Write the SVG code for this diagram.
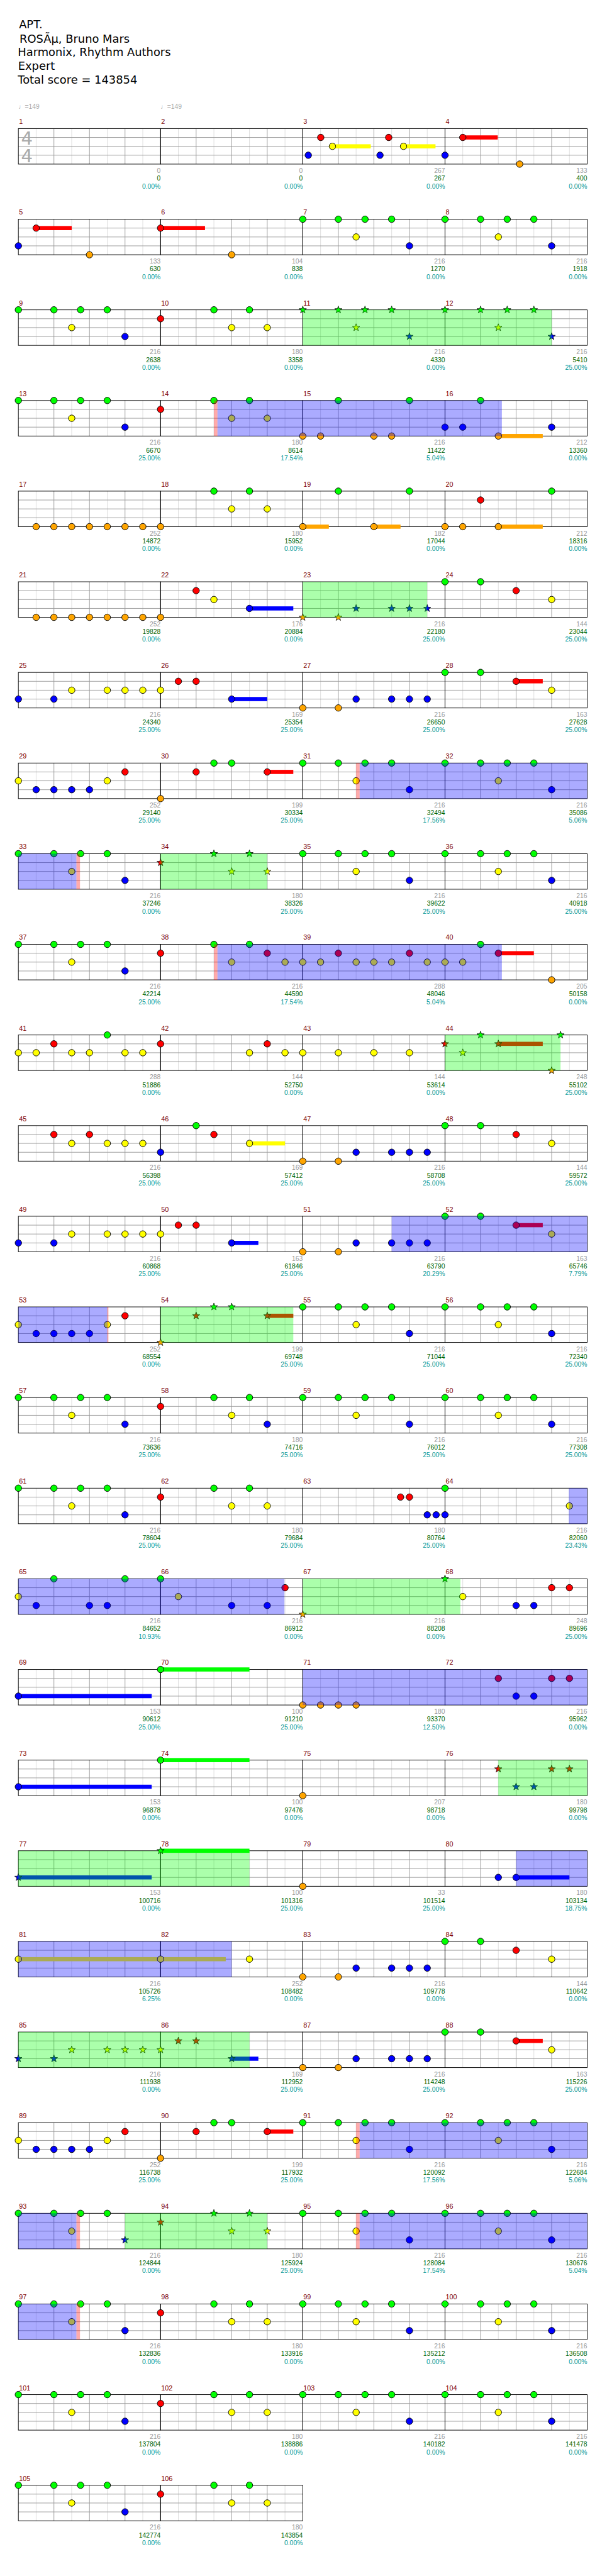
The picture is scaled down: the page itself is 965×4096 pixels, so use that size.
<svg xmlns="http://www.w3.org/2000/svg" width="965" height="4096" viewBox="0 0 965 4096">
<style>
text{font-family:"Liberation Sans","DejaVu Sans",sans-serif}
.t{font-family:"DejaVu Sans",sans-serif;font-size:19px;fill:#000}
.mn{font-size:11.5px;fill:#800000}
.a,.b,.c{font-size:11px;text-anchor:end}
.a{fill:#999}.b{fill:#006400}.c{fill:#009999}
.tp{font-size:11px;fill:#aaa}
.ts{font-family:"DejaVu Sans",sans-serif;font-size:31px;fill:#aaa}
.sR{fill:#f00}.sY{fill:#ff0}.sB{fill:#00f}.sO{fill:#ffa500}.sG{fill:#0f0}
.ovg{fill:#0f0;fill-opacity:.33}.ovb{fill:#00f;fill-opacity:.33}.ovr{fill:#f00;fill-opacity:.33}
</style>
<defs>
<g id="M">
<path d="M30 0V60M90 0V60M150 0V60M210 0V60" stroke="#ddd"/>
<path d="M60 0V60M120 0V60M180 0V60M0 15H240M0 30H240M0 45H240" stroke="#999"/>
<rect width="240" height="60" fill="none" stroke="#000"/>
</g>
<circle id="g" r="5.5" fill="#0f0" stroke="#000"/>
<circle id="r" cy="15" r="5.5" fill="#f00" stroke="#000"/>
<circle id="y" cy="30" r="5.5" fill="#ff0" stroke="#000"/>
<circle id="b" cy="45" r="5.5" fill="#00f" stroke="#000"/>
<circle id="o" cy="60" r="5.5" fill="#ffa500" stroke="#000"/>
<path id="st" d="M0,-6.5L1.53,-2.1L6.18,-2.01L2.47,0.8L3.82,5.26L0,2.6L-3.82,5.26L-2.47,0.8L-6.18,-2.01L-1.53,-2.1Z" stroke="#000" stroke-width="0.8"/>
<use id="G" href="#st" fill="#0f0"/>
<use id="R" href="#st" y="15" fill="#f00"/>
<use id="Y" href="#st" y="30" fill="#ff0"/>
<use id="B" href="#st" y="45" fill="#00f"/>
<use id="O" href="#st" y="60" fill="#ffa500"/>
<g id="S"><use href="#g"/><use href="#g" x="60"/><use href="#g" x="105"/><use href="#g" x="150"/><use href="#y" x="90"/><use href="#b" x="180"/></g>
<g id="SS"><use href="#G"/><use href="#G" x="60"/><use href="#G" x="105"/><use href="#G" x="150"/><use href="#Y" x="90"/><use href="#B" x="180"/></g>
<g id="T"><use href="#r"/><use href="#g" x="90"/><use href="#g" x="150"/><use href="#y" x="120"/><use href="#y" x="180"/></g>
<g id="C"><use href="#g"/><use href="#g" x="60"/><use href="#y" x="90"/><use href="#g" x="105"/><use href="#g" x="150"/><use href="#b" x="180"/></g>
<g id="P"><use href="#o"/><use href="#o" x="60"/><use href="#b" x="90"/><use href="#b" x="150"/><use href="#b" x="180"/><use href="#b" x="210"/></g>
<g id="Q"><rect class="sR" x="120" y="11.5" width="45" height="7"/><use href="#g"/><use href="#g" x="60"/><use href="#r" x="120"/><use href="#y" x="180"/></g>
<g id="V"><use href="#y"/><use href="#b" x="30"/><use href="#b" x="60"/><use href="#b" x="90"/><use href="#b" x="120"/><use href="#y" x="150"/><use href="#r" x="180"/></g>
</defs>
<g transform="scale(0.942)">
<g id="header">
<text class="t" x="32" y="48">APT.</text>
<text class="t" x="33" y="71.7">ROSÃµ, Bruno Mars</text>
<text class="t" x="30" y="95">Harmonix, Rhythm Authors</text>
<text class="t" x="30.5" y="118.3">Expert</text>
<text class="t" x="30" y="141">Total score = 143854</text>
<text class="tp" x="31" y="184">♩=149</text>
<text class="tp" x="271" y="184">♩=149</text>
</g>
<g id="measures">
<g id="m1" transform="translate(31,217)"><use href="#M"/><text class="mn" x="1" y="-7.5">1</text><text class="ts" x="4.5" y="27">4</text><text class="ts" x="4.5" y="57">4</text><text class="a" x="240" y="75">0</text><text class="b" x="240" y="88">0</text><text class="c" x="240" y="101">0.00%</text></g>
<g id="m2" transform="translate(271,217)"><use href="#M"/><text class="mn" x="1" y="-7.5">2</text><text class="a" x="240" y="75">0</text><text class="b" x="240" y="88">0</text><text class="c" x="240" y="101">0.00%</text></g>
<g id="m3" transform="translate(511,217)"><use href="#M"/><text class="mn" x="1" y="-7.5">3</text><rect class="sY" x="50" y="26.5" width="64.7" height="7"/><rect class="sY" x="170" y="26.5" width="54" height="7"/><use href="#b" x="9.3"/><use href="#r" x="30.3"/><use href="#y" x="50"/><use href="#b" x="130.3"/><use href="#r" x="145"/><use href="#y" x="170"/><text class="a" x="240" y="75">267</text><text class="b" x="240" y="88">267</text><text class="c" x="240" y="101">0.00%</text></g>
<g id="m4" transform="translate(751,217)"><use href="#M"/><text class="mn" x="1" y="-7.5">4</text><rect class="sR" x="30" y="11.5" width="59" height="7"/><use href="#b"/><use href="#r" x="30"/><use href="#o" x="126"/><text class="a" x="240" y="75">133</text><text class="b" x="240" y="88">400</text><text class="c" x="240" y="101">0.00%</text></g>
<g id="m5" transform="translate(31,370)"><use href="#M"/><text class="mn" x="1" y="-7.5">5</text><rect class="sR" x="30" y="11.5" width="60" height="7"/><use href="#b"/><use href="#r" x="30"/><use href="#o" x="120"/><text class="a" x="240" y="75">133</text><text class="b" x="240" y="88">630</text><text class="c" x="240" y="101">0.00%</text></g>
<g id="m6" transform="translate(271,370)"><use href="#M"/><text class="mn" x="1" y="-7.5">6</text><rect class="sR" x="0" y="11.5" width="75" height="7"/><use href="#r"/><use href="#o" x="120"/><text class="a" x="240" y="75">104</text><text class="b" x="240" y="88">838</text><text class="c" x="240" y="101">0.00%</text></g>
<g id="m7" transform="translate(511,370)"><use href="#M"/><text class="mn" x="1" y="-7.5">7</text><use href="#S"/><text class="a" x="240" y="75">216</text><text class="b" x="240" y="88">1270</text><text class="c" x="240" y="101">0.00%</text></g>
<g id="m8" transform="translate(751,370)"><use href="#M"/><text class="mn" x="1" y="-7.5">8</text><use href="#S"/><text class="a" x="240" y="75">216</text><text class="b" x="240" y="88">1918</text><text class="c" x="240" y="101">0.00%</text></g>
<g id="m9" transform="translate(31,523)"><use href="#M"/><text class="mn" x="1" y="-7.5">9</text><use href="#S"/><text class="a" x="240" y="75">216</text><text class="b" x="240" y="88">2638</text><text class="c" x="240" y="101">0.00%</text></g>
<g id="m10" transform="translate(271,523)"><use href="#M"/><text class="mn" x="1" y="-7.5">10</text><use href="#T"/><text class="a" x="240" y="75">180</text><text class="b" x="240" y="88">3358</text><text class="c" x="240" y="101">0.00%</text></g>
<g id="m11" transform="translate(511,523)"><use href="#M"/><text class="mn" x="1" y="-7.5">11</text><use href="#SS"/><text class="a" x="240" y="75">216</text><text class="b" x="240" y="88">4330</text><text class="c" x="240" y="101">0.00%</text></g>
<g id="m12" transform="translate(751,523)"><use href="#M"/><text class="mn" x="1" y="-7.5">12</text><use href="#SS"/><text class="a" x="240" y="75">216</text><text class="b" x="240" y="88">5410</text><text class="c" x="240" y="101">25.00%</text></g>
<g id="m13" transform="translate(31,676)"><use href="#M"/><text class="mn" x="1" y="-7.5">13</text><use href="#S"/><text class="a" x="240" y="75">216</text><text class="b" x="240" y="88">6670</text><text class="c" x="240" y="101">25.00%</text></g>
<g id="m14" transform="translate(271,676)"><use href="#M"/><text class="mn" x="1" y="-7.5">14</text><use href="#T"/><text class="a" x="240" y="75">180</text><text class="b" x="240" y="88">8614</text><text class="c" x="240" y="101">17.54%</text></g>
<g id="m15" transform="translate(511,676)"><use href="#M"/><text class="mn" x="1" y="-7.5">15</text><use href="#g" x="60"/><use href="#g" x="180"/><use href="#o"/><use href="#o" x="30"/><use href="#o" x="120"/><use href="#o" x="150"/><text class="a" x="240" y="75">216</text><text class="b" x="240" y="88">11422</text><text class="c" x="240" y="101">5.04%</text></g>
<g id="m16" transform="translate(751,676)"><use href="#M"/><text class="mn" x="1" y="-7.5">16</text><rect class="sO" x="90" y="56.5" width="75" height="7"/><use href="#b"/><use href="#b" x="30"/><use href="#g" x="60"/><use href="#o" x="90"/><use href="#b" x="180"/><text class="a" x="240" y="75">212</text><text class="b" x="240" y="88">13360</text><text class="c" x="240" y="101">0.00%</text></g>
<g id="m17" transform="translate(31,829)"><use href="#M"/><text class="mn" x="1" y="-7.5">17</text><use href="#o" x="30"/><use href="#o" x="60"/><use href="#o" x="90"/><use href="#o" x="120"/><use href="#o" x="150"/><use href="#o" x="180"/><use href="#o" x="210"/><text class="a" x="240" y="75">252</text><text class="b" x="240" y="88">14872</text><text class="c" x="240" y="101">0.00%</text></g>
<g id="m18" transform="translate(271,829)"><use href="#M"/><text class="mn" x="1" y="-7.5">18</text><use href="#o"/><use href="#g" x="90"/><use href="#g" x="150"/><use href="#y" x="120"/><use href="#y" x="180"/><text class="a" x="240" y="75">180</text><text class="b" x="240" y="88">15952</text><text class="c" x="240" y="101">0.00%</text></g>
<g id="m19" transform="translate(511,829)"><use href="#M"/><text class="mn" x="1" y="-7.5">19</text><rect class="sO" x="0" y="56.5" width="44" height="7"/><rect class="sO" x="120" y="56.5" width="45" height="7"/><use href="#o"/><use href="#g" x="60"/><use href="#o" x="120"/><use href="#g" x="180"/><text class="a" x="240" y="75">182</text><text class="b" x="240" y="88">17044</text><text class="c" x="240" y="101">0.00%</text></g>
<g id="m20" transform="translate(751,829)"><use href="#M"/><text class="mn" x="1" y="-7.5">20</text><rect class="sO" x="90" y="56.5" width="75" height="7"/><use href="#o"/><use href="#o" x="30"/><use href="#r" x="60"/><use href="#o" x="90"/><use href="#g" x="180"/><text class="a" x="240" y="75">212</text><text class="b" x="240" y="88">18316</text><text class="c" x="240" y="101">0.00%</text></g>
<g id="m21" transform="translate(31,982)"><use href="#M"/><text class="mn" x="1" y="-7.5">21</text><use href="#o" x="30"/><use href="#o" x="60"/><use href="#o" x="90"/><use href="#o" x="120"/><use href="#o" x="150"/><use href="#o" x="180"/><use href="#o" x="210"/><text class="a" x="240" y="75">252</text><text class="b" x="240" y="88">19828</text><text class="c" x="240" y="101">0.00%</text></g>
<g id="m22" transform="translate(271,982)"><use href="#M"/><text class="mn" x="1" y="-7.5">22</text><rect class="sB" x="150" y="41.5" width="74" height="7"/><use href="#o"/><use href="#r" x="60"/><use href="#y" x="90"/><use href="#b" x="150"/><text class="a" x="240" y="75">176</text><text class="b" x="240" y="88">20884</text><text class="c" x="240" y="101">0.00%</text></g>
<g id="m23" transform="translate(511,982)"><use href="#M"/><text class="mn" x="1" y="-7.5">23</text><use href="#O"/><use href="#O" x="60"/><use href="#B" x="90"/><use href="#B" x="150"/><use href="#B" x="180"/><use href="#B" x="210"/><text class="a" x="240" y="75">216</text><text class="b" x="240" y="88">22180</text><text class="c" x="240" y="101">25.00%</text></g>
<g id="m24" transform="translate(751,982)"><use href="#M"/><text class="mn" x="1" y="-7.5">24</text><use href="#g"/><use href="#g" x="60"/><use href="#r" x="120"/><use href="#y" x="180"/><text class="a" x="240" y="75">144</text><text class="b" x="240" y="88">23044</text><text class="c" x="240" y="101">25.00%</text></g>
<g id="m25" transform="translate(31,1135)"><use href="#M"/><text class="mn" x="1" y="-7.5">25</text><use href="#b"/><use href="#b" x="60"/><use href="#y" x="90"/><use href="#y" x="150"/><use href="#y" x="180"/><use href="#y" x="210"/><text class="a" x="240" y="75">216</text><text class="b" x="240" y="88">24340</text><text class="c" x="240" y="101">25.00%</text></g>
<g id="m26" transform="translate(271,1135)"><use href="#M"/><text class="mn" x="1" y="-7.5">26</text><rect class="sB" x="120" y="41.5" width="60" height="7"/><use href="#y"/><use href="#r" x="30"/><use href="#r" x="60"/><use href="#b" x="120"/><text class="a" x="240" y="75">169</text><text class="b" x="240" y="88">25354</text><text class="c" x="240" y="101">25.00%</text></g>
<g id="m27" transform="translate(511,1135)"><use href="#M"/><text class="mn" x="1" y="-7.5">27</text><use href="#P"/><text class="a" x="240" y="75">216</text><text class="b" x="240" y="88">26650</text><text class="c" x="240" y="101">25.00%</text></g>
<g id="m28" transform="translate(751,1135)"><use href="#M"/><text class="mn" x="1" y="-7.5">28</text><use href="#Q"/><text class="a" x="240" y="75">163</text><text class="b" x="240" y="88">27628</text><text class="c" x="240" y="101">25.00%</text></g>
<g id="m29" transform="translate(31,1288)"><use href="#M"/><text class="mn" x="1" y="-7.5">29</text><use href="#V"/><text class="a" x="240" y="75">252</text><text class="b" x="240" y="88">29140</text><text class="c" x="240" y="101">25.00%</text></g>
<g id="m30" transform="translate(271,1288)"><use href="#M"/><text class="mn" x="1" y="-7.5">30</text><rect class="sR" x="180" y="11.5" width="44" height="7"/><use href="#o"/><use href="#r" x="60"/><use href="#g" x="90"/><use href="#g" x="120"/><use href="#r" x="180"/><text class="a" x="240" y="75">199</text><text class="b" x="240" y="88">30334</text><text class="c" x="240" y="101">25.00%</text></g>
<g id="m31" transform="translate(511,1288)"><use href="#M"/><text class="mn" x="1" y="-7.5">31</text><use href="#C"/><text class="a" x="240" y="75">216</text><text class="b" x="240" y="88">32494</text><text class="c" x="240" y="101">17.56%</text></g>
<g id="m32" transform="translate(751,1288)"><use href="#M"/><text class="mn" x="1" y="-7.5">32</text><use href="#S"/><text class="a" x="240" y="75">216</text><text class="b" x="240" y="88">35086</text><text class="c" x="240" y="101">5.06%</text></g>
<g id="m33" transform="translate(31,1441)"><use href="#M"/><text class="mn" x="1" y="-7.5">33</text><use href="#S"/><text class="a" x="240" y="75">216</text><text class="b" x="240" y="88">37246</text><text class="c" x="240" y="101">0.00%</text></g>
<g id="m34" transform="translate(271,1441)"><use href="#M"/><text class="mn" x="1" y="-7.5">34</text><use href="#R"/><use href="#G" x="90"/><use href="#G" x="150"/><use href="#Y" x="120"/><use href="#Y" x="180"/><text class="a" x="240" y="75">180</text><text class="b" x="240" y="88">38326</text><text class="c" x="240" y="101">25.00%</text></g>
<g id="m35" transform="translate(511,1441)"><use href="#M"/><text class="mn" x="1" y="-7.5">35</text><use href="#S"/><text class="a" x="240" y="75">216</text><text class="b" x="240" y="88">39622</text><text class="c" x="240" y="101">25.00%</text></g>
<g id="m36" transform="translate(751,1441)"><use href="#M"/><text class="mn" x="1" y="-7.5">36</text><use href="#S"/><text class="a" x="240" y="75">216</text><text class="b" x="240" y="88">40918</text><text class="c" x="240" y="101">25.00%</text></g>
<g id="m37" transform="translate(31,1594)"><use href="#M"/><text class="mn" x="1" y="-7.5">37</text><use href="#S"/><text class="a" x="240" y="75">216</text><text class="b" x="240" y="88">42214</text><text class="c" x="240" y="101">25.00%</text></g>
<g id="m38" transform="translate(271,1594)"><use href="#M"/><text class="mn" x="1" y="-7.5">38</text><use href="#r"/><use href="#g" x="90"/><use href="#g" x="150"/><use href="#y" x="120"/><use href="#r" x="180"/><use href="#y" x="210"/><text class="a" x="240" y="75">216</text><text class="b" x="240" y="88">44590</text><text class="c" x="240" y="101">17.54%</text></g>
<g id="m39" transform="translate(511,1594)"><use href="#M"/><text class="mn" x="1" y="-7.5">39</text><use href="#y"/><use href="#y" x="30"/><use href="#r" x="60"/><use href="#y" x="90"/><use href="#y" x="120"/><use href="#y" x="150"/><use href="#r" x="180"/><use href="#y" x="210"/><text class="a" x="240" y="75">288</text><text class="b" x="240" y="88">48046</text><text class="c" x="240" y="101">5.04%</text></g>
<g id="m40" transform="translate(751,1594)"><use href="#M"/><text class="mn" x="1" y="-7.5">40</text><rect class="sR" x="90" y="11.5" width="60" height="7"/><use href="#y"/><use href="#y" x="30"/><use href="#g" x="60"/><use href="#r" x="90"/><use href="#o" x="180"/><text class="a" x="240" y="75">205</text><text class="b" x="240" y="88">50158</text><text class="c" x="240" y="101">0.00%</text></g>
<g id="m41" transform="translate(31,1747)"><use href="#M"/><text class="mn" x="1" y="-7.5">41</text><use href="#y"/><use href="#y" x="30"/><use href="#r" x="60"/><use href="#y" x="90"/><use href="#y" x="120"/><use href="#g" x="150"/><use href="#y" x="180"/><use href="#y" x="210"/><text class="a" x="240" y="75">288</text><text class="b" x="240" y="88">51886</text><text class="c" x="240" y="101">0.00%</text></g>
<g id="m42" transform="translate(271,1747)"><use href="#M"/><text class="mn" x="1" y="-7.5">42</text><use href="#r"/><use href="#y" x="150"/><use href="#r" x="180"/><use href="#y" x="210"/><text class="a" x="240" y="75">144</text><text class="b" x="240" y="88">52750</text><text class="c" x="240" y="101">0.00%</text></g>
<g id="m43" transform="translate(511,1747)"><use href="#M"/><text class="mn" x="1" y="-7.5">43</text><use href="#y"/><use href="#y" x="60"/><use href="#y" x="120"/><use href="#y" x="180"/><text class="a" x="240" y="75">144</text><text class="b" x="240" y="88">53614</text><text class="c" x="240" y="101">0.00%</text></g>
<g id="m44" transform="translate(751,1747)"><use href="#M"/><text class="mn" x="1" y="-7.5">44</text><rect class="sR" x="90" y="11.5" width="75" height="7"/><use href="#R"/><use href="#Y" x="30"/><use href="#G" x="60"/><use href="#R" x="90"/><use href="#O" x="180"/><use href="#G" x="195"/><text class="a" x="240" y="75">248</text><text class="b" x="240" y="88">55102</text><text class="c" x="240" y="101">25.00%</text></g>
<g id="m45" transform="translate(31,1900)"><use href="#M"/><text class="mn" x="1" y="-7.5">45</text><use href="#r" x="60"/><use href="#r" x="120"/><use href="#y" x="90"/><use href="#y" x="150"/><use href="#y" x="180"/><use href="#y" x="210"/><text class="a" x="240" y="75">216</text><text class="b" x="240" y="88">56398</text><text class="c" x="240" y="101">25.00%</text></g>
<g id="m46" transform="translate(271,1900)"><use href="#M"/><text class="mn" x="1" y="-7.5">46</text><rect class="sY" x="150" y="26.5" width="60" height="7"/><use href="#b"/><use href="#g" x="60"/><use href="#r" x="90"/><use href="#y" x="150"/><text class="a" x="240" y="75">169</text><text class="b" x="240" y="88">57412</text><text class="c" x="240" y="101">25.00%</text></g>
<g id="m47" transform="translate(511,1900)"><use href="#M"/><text class="mn" x="1" y="-7.5">47</text><use href="#P"/><text class="a" x="240" y="75">216</text><text class="b" x="240" y="88">58708</text><text class="c" x="240" y="101">25.00%</text></g>
<g id="m48" transform="translate(751,1900)"><use href="#M"/><text class="mn" x="1" y="-7.5">48</text><use href="#g"/><use href="#g" x="60"/><use href="#r" x="120"/><use href="#y" x="180"/><text class="a" x="240" y="75">144</text><text class="b" x="240" y="88">59572</text><text class="c" x="240" y="101">25.00%</text></g>
<g id="m49" transform="translate(31,2053)"><use href="#M"/><text class="mn" x="1" y="-7.5">49</text><use href="#b"/><use href="#b" x="60"/><use href="#y" x="90"/><use href="#y" x="150"/><use href="#y" x="180"/><use href="#y" x="210"/><text class="a" x="240" y="75">216</text><text class="b" x="240" y="88">60868</text><text class="c" x="240" y="101">25.00%</text></g>
<g id="m50" transform="translate(271,2053)"><use href="#M"/><text class="mn" x="1" y="-7.5">50</text><rect class="sB" x="120" y="41.5" width="45" height="7"/><use href="#y"/><use href="#r" x="30"/><use href="#r" x="60"/><use href="#b" x="120"/><text class="a" x="240" y="75">163</text><text class="b" x="240" y="88">61846</text><text class="c" x="240" y="101">25.00%</text></g>
<g id="m51" transform="translate(511,2053)"><use href="#M"/><text class="mn" x="1" y="-7.5">51</text><use href="#P"/><text class="a" x="240" y="75">216</text><text class="b" x="240" y="88">63790</text><text class="c" x="240" y="101">20.29%</text></g>
<g id="m52" transform="translate(751,2053)"><use href="#M"/><text class="mn" x="1" y="-7.5">52</text><use href="#Q"/><text class="a" x="240" y="75">163</text><text class="b" x="240" y="88">65746</text><text class="c" x="240" y="101">7.79%</text></g>
<g id="m53" transform="translate(31,2206)"><use href="#M"/><text class="mn" x="1" y="-7.5">53</text><use href="#V"/><text class="a" x="240" y="75">252</text><text class="b" x="240" y="88">68554</text><text class="c" x="240" y="101">0.00%</text></g>
<g id="m54" transform="translate(271,2206)"><use href="#M"/><text class="mn" x="1" y="-7.5">54</text><rect class="sR" x="180" y="11.5" width="44" height="7"/><use href="#O"/><use href="#R" x="60"/><use href="#G" x="90"/><use href="#G" x="120"/><use href="#R" x="180"/><text class="a" x="240" y="75">199</text><text class="b" x="240" y="88">69748</text><text class="c" x="240" y="101">25.00%</text></g>
<g id="m55" transform="translate(511,2206)"><use href="#M"/><text class="mn" x="1" y="-7.5">55</text><use href="#S"/><text class="a" x="240" y="75">216</text><text class="b" x="240" y="88">71044</text><text class="c" x="240" y="101">25.00%</text></g>
<g id="m56" transform="translate(751,2206)"><use href="#M"/><text class="mn" x="1" y="-7.5">56</text><use href="#S"/><text class="a" x="240" y="75">216</text><text class="b" x="240" y="88">72340</text><text class="c" x="240" y="101">25.00%</text></g>
<g id="m57" transform="translate(31,2359)"><use href="#M"/><text class="mn" x="1" y="-7.5">57</text><use href="#S"/><text class="a" x="240" y="75">216</text><text class="b" x="240" y="88">73636</text><text class="c" x="240" y="101">25.00%</text></g>
<g id="m58" transform="translate(271,2359)"><use href="#M"/><text class="mn" x="1" y="-7.5">58</text><use href="#r"/><use href="#g" x="90"/><use href="#g" x="150"/><use href="#y" x="120"/><use href="#b" x="180"/><text class="a" x="240" y="75">180</text><text class="b" x="240" y="88">74716</text><text class="c" x="240" y="101">25.00%</text></g>
<g id="m59" transform="translate(511,2359)"><use href="#M"/><text class="mn" x="1" y="-7.5">59</text><use href="#S"/><text class="a" x="240" y="75">216</text><text class="b" x="240" y="88">76012</text><text class="c" x="240" y="101">25.00%</text></g>
<g id="m60" transform="translate(751,2359)"><use href="#M"/><text class="mn" x="1" y="-7.5">60</text><use href="#S"/><text class="a" x="240" y="75">216</text><text class="b" x="240" y="88">77308</text><text class="c" x="240" y="101">25.00%</text></g>
<g id="m61" transform="translate(31,2512)"><use href="#M"/><text class="mn" x="1" y="-7.5">61</text><use href="#S"/><text class="a" x="240" y="75">216</text><text class="b" x="240" y="88">78604</text><text class="c" x="240" y="101">25.00%</text></g>
<g id="m62" transform="translate(271,2512)"><use href="#M"/><text class="mn" x="1" y="-7.5">62</text><use href="#T"/><text class="a" x="240" y="75">180</text><text class="b" x="240" y="88">79684</text><text class="c" x="240" y="101">25.00%</text></g>
<g id="m63" transform="translate(511,2512)"><use href="#M"/><text class="mn" x="1" y="-7.5">63</text><use href="#r" x="165"/><use href="#r" x="180"/><use href="#b" x="210"/><use href="#b" x="225"/><text class="a" x="240" y="75">180</text><text class="b" x="240" y="88">80764</text><text class="c" x="240" y="101">25.00%</text></g>
<g id="m64" transform="translate(751,2512)"><use href="#M"/><text class="mn" x="1" y="-7.5">64</text><use href="#g"/><use href="#b"/><use href="#y" x="210"/><text class="a" x="240" y="75">216</text><text class="b" x="240" y="88">82060</text><text class="c" x="240" y="101">23.43%</text></g>
<g id="m65" transform="translate(31,2665)"><use href="#M"/><text class="mn" x="1" y="-7.5">65</text><use href="#y"/><use href="#b" x="30"/><use href="#g" x="60"/><use href="#b" x="120"/><use href="#b" x="150"/><use href="#g" x="180"/><text class="a" x="240" y="75">216</text><text class="b" x="240" y="88">84652</text><text class="c" x="240" y="101">10.93%</text></g>
<g id="m66" transform="translate(271,2665)"><use href="#M"/><text class="mn" x="1" y="-7.5">66</text><use href="#g"/><use href="#y" x="30"/><use href="#b" x="120"/><use href="#b" x="180"/><use href="#r" x="210"/><text class="a" x="240" y="75">216</text><text class="b" x="240" y="88">86912</text><text class="c" x="240" y="101">0.00%</text></g>
<g id="m67" transform="translate(511,2665)"><use href="#M"/><text class="mn" x="1" y="-7.5">67</text><use href="#O"/><text class="a" x="240" y="75">216</text><text class="b" x="240" y="88">88208</text><text class="c" x="240" y="101">0.00%</text></g>
<g id="m68" transform="translate(751,2665)"><use href="#M"/><text class="mn" x="1" y="-7.5">68</text><use href="#G"/><use href="#y" x="30"/><use href="#b" x="120"/><use href="#b" x="150"/><use href="#r" x="180"/><use href="#r" x="210"/><text class="a" x="240" y="75">248</text><text class="b" x="240" y="88">89696</text><text class="c" x="240" y="101">25.00%</text></g>
<g id="m69" transform="translate(31,2818)"><use href="#M"/><text class="mn" x="1" y="-7.5">69</text><rect class="sB" x="0" y="41.5" width="225" height="7"/><use href="#b"/><text class="a" x="240" y="75">153</text><text class="b" x="240" y="88">90612</text><text class="c" x="240" y="101">25.00%</text></g>
<g id="m70" transform="translate(271,2818)"><use href="#M"/><text class="mn" x="1" y="-7.5">70</text><rect class="sG" x="0" y="-3.5" width="150" height="7"/><use href="#g"/><text class="a" x="240" y="75">100</text><text class="b" x="240" y="88">91210</text><text class="c" x="240" y="101">25.00%</text></g>
<g id="m71" transform="translate(511,2818)"><use href="#M"/><text class="mn" x="1" y="-7.5">71</text><use href="#o"/><use href="#o" x="30"/><use href="#o" x="60"/><use href="#o" x="90"/><text class="a" x="240" y="75">180</text><text class="b" x="240" y="88">93370</text><text class="c" x="240" y="101">12.50%</text></g>
<g id="m72" transform="translate(751,2818)"><use href="#M"/><text class="mn" x="1" y="-7.5">72</text><use href="#r" x="90"/><use href="#b" x="120"/><use href="#b" x="150"/><use href="#r" x="180"/><use href="#r" x="210"/><text class="a" x="240" y="75">216</text><text class="b" x="240" y="88">95962</text><text class="c" x="240" y="101">0.00%</text></g>
<g id="m73" transform="translate(31,2971)"><use href="#M"/><text class="mn" x="1" y="-7.5">73</text><rect class="sB" x="0" y="41.5" width="225" height="7"/><use href="#b"/><text class="a" x="240" y="75">153</text><text class="b" x="240" y="88">96878</text><text class="c" x="240" y="101">0.00%</text></g>
<g id="m74" transform="translate(271,2971)"><use href="#M"/><text class="mn" x="1" y="-7.5">74</text><rect class="sG" x="0" y="-3.5" width="150" height="7"/><use href="#g"/><text class="a" x="240" y="75">100</text><text class="b" x="240" y="88">97476</text><text class="c" x="240" y="101">0.00%</text></g>
<g id="m75" transform="translate(511,2971)"><use href="#M"/><text class="mn" x="1" y="-7.5">75</text><use href="#o"/><text class="a" x="240" y="75">207</text><text class="b" x="240" y="88">98718</text><text class="c" x="240" y="101">0.00%</text></g>
<g id="m76" transform="translate(751,2971)"><use href="#M"/><text class="mn" x="1" y="-7.5">76</text><use href="#R" x="90"/><use href="#B" x="120"/><use href="#B" x="150"/><use href="#R" x="180"/><use href="#R" x="210"/><text class="a" x="240" y="75">180</text><text class="b" x="240" y="88">99798</text><text class="c" x="240" y="101">0.00%</text></g>
<g id="m77" transform="translate(31,3124)"><use href="#M"/><text class="mn" x="1" y="-7.5">77</text><rect class="sB" x="0" y="41.5" width="225" height="7"/><use href="#B"/><text class="a" x="240" y="75">153</text><text class="b" x="240" y="88">100716</text><text class="c" x="240" y="101">0.00%</text></g>
<g id="m78" transform="translate(271,3124)"><use href="#M"/><text class="mn" x="1" y="-7.5">78</text><rect class="sG" x="0" y="-3.5" width="150" height="7"/><use href="#G"/><text class="a" x="240" y="75">100</text><text class="b" x="240" y="88">101316</text><text class="c" x="240" y="101">25.00%</text></g>
<g id="m79" transform="translate(511,3124)"><use href="#M"/><text class="mn" x="1" y="-7.5">79</text><use href="#o"/><text class="a" x="240" y="75">33</text><text class="b" x="240" y="88">101514</text><text class="c" x="240" y="101">25.00%</text></g>
<g id="m80" transform="translate(751,3124)"><use href="#M"/><text class="mn" x="1" y="-7.5">80</text><rect class="sB" x="120" y="41.5" width="90" height="7"/><use href="#b" x="90"/><use href="#b" x="120"/><text class="a" x="240" y="75">180</text><text class="b" x="240" y="88">103134</text><text class="c" x="240" y="101">18.75%</text></g>
<g id="m81" transform="translate(31,3277)"><use href="#M"/><text class="mn" x="1" y="-7.5">81</text><rect class="sY" x="0" y="26.5" width="235" height="7"/><use href="#y"/><text class="a" x="240" y="75">216</text><text class="b" x="240" y="88">105726</text><text class="c" x="240" y="101">6.25%</text></g>
<g id="m82" transform="translate(271,3277)"><use href="#M"/><text class="mn" x="1" y="-7.5">82</text><rect class="sY" x="0" y="26.5" width="110" height="7"/><use href="#y"/><use href="#y" x="150"/><text class="a" x="240" y="75">252</text><text class="b" x="240" y="88">108482</text><text class="c" x="240" y="101">0.00%</text></g>
<g id="m83" transform="translate(511,3277)"><use href="#M"/><text class="mn" x="1" y="-7.5">83</text><use href="#P"/><text class="a" x="240" y="75">216</text><text class="b" x="240" y="88">109778</text><text class="c" x="240" y="101">0.00%</text></g>
<g id="m84" transform="translate(751,3277)"><use href="#M"/><text class="mn" x="1" y="-7.5">84</text><use href="#g"/><use href="#g" x="60"/><use href="#r" x="120"/><use href="#y" x="180"/><text class="a" x="240" y="75">144</text><text class="b" x="240" y="88">110642</text><text class="c" x="240" y="101">0.00%</text></g>
<g id="m85" transform="translate(31,3430)"><use href="#M"/><text class="mn" x="1" y="-7.5">85</text><use href="#B"/><use href="#B" x="60"/><use href="#Y" x="90"/><use href="#Y" x="150"/><use href="#Y" x="180"/><use href="#Y" x="210"/><text class="a" x="240" y="75">216</text><text class="b" x="240" y="88">111938</text><text class="c" x="240" y="101">0.00%</text></g>
<g id="m86" transform="translate(271,3430)"><use href="#M"/><text class="mn" x="1" y="-7.5">86</text><rect class="sB" x="120" y="41.5" width="45" height="7"/><use href="#Y"/><use href="#R" x="30"/><use href="#R" x="60"/><use href="#B" x="120"/><text class="a" x="240" y="75">169</text><text class="b" x="240" y="88">112952</text><text class="c" x="240" y="101">25.00%</text></g>
<g id="m87" transform="translate(511,3430)"><use href="#M"/><text class="mn" x="1" y="-7.5">87</text><use href="#P"/><text class="a" x="240" y="75">216</text><text class="b" x="240" y="88">114248</text><text class="c" x="240" y="101">25.00%</text></g>
<g id="m88" transform="translate(751,3430)"><use href="#M"/><text class="mn" x="1" y="-7.5">88</text><use href="#Q"/><text class="a" x="240" y="75">163</text><text class="b" x="240" y="88">115226</text><text class="c" x="240" y="101">25.00%</text></g>
<g id="m89" transform="translate(31,3583)"><use href="#M"/><text class="mn" x="1" y="-7.5">89</text><use href="#V"/><text class="a" x="240" y="75">252</text><text class="b" x="240" y="88">116738</text><text class="c" x="240" y="101">25.00%</text></g>
<g id="m90" transform="translate(271,3583)"><use href="#M"/><text class="mn" x="1" y="-7.5">90</text><rect class="sR" x="180" y="11.5" width="44" height="7"/><use href="#o"/><use href="#r" x="60"/><use href="#g" x="90"/><use href="#g" x="120"/><use href="#r" x="180"/><text class="a" x="240" y="75">199</text><text class="b" x="240" y="88">117932</text><text class="c" x="240" y="101">25.00%</text></g>
<g id="m91" transform="translate(511,3583)"><use href="#M"/><text class="mn" x="1" y="-7.5">91</text><use href="#C"/><text class="a" x="240" y="75">216</text><text class="b" x="240" y="88">120092</text><text class="c" x="240" y="101">17.56%</text></g>
<g id="m92" transform="translate(751,3583)"><use href="#M"/><text class="mn" x="1" y="-7.5">92</text><use href="#S"/><text class="a" x="240" y="75">216</text><text class="b" x="240" y="88">122684</text><text class="c" x="240" y="101">5.06%</text></g>
<g id="m93" transform="translate(31,3736)"><use href="#M"/><text class="mn" x="1" y="-7.5">93</text><use href="#g"/><use href="#g" x="60"/><use href="#y" x="90"/><use href="#g" x="105"/><use href="#g" x="150"/><use href="#B" x="180"/><text class="a" x="240" y="75">216</text><text class="b" x="240" y="88">124844</text><text class="c" x="240" y="101">0.00%</text></g>
<g id="m94" transform="translate(271,3736)"><use href="#M"/><text class="mn" x="1" y="-7.5">94</text><use href="#R"/><use href="#G" x="90"/><use href="#G" x="150"/><use href="#Y" x="120"/><use href="#Y" x="180"/><text class="a" x="240" y="75">180</text><text class="b" x="240" y="88">125924</text><text class="c" x="240" y="101">25.00%</text></g>
<g id="m95" transform="translate(511,3736)"><use href="#M"/><text class="mn" x="1" y="-7.5">95</text><use href="#C"/><text class="a" x="240" y="75">216</text><text class="b" x="240" y="88">128084</text><text class="c" x="240" y="101">17.54%</text></g>
<g id="m96" transform="translate(751,3736)"><use href="#M"/><text class="mn" x="1" y="-7.5">96</text><use href="#S"/><text class="a" x="240" y="75">216</text><text class="b" x="240" y="88">130676</text><text class="c" x="240" y="101">5.04%</text></g>
<g id="m97" transform="translate(31,3889)"><use href="#M"/><text class="mn" x="1" y="-7.5">97</text><use href="#S"/><text class="a" x="240" y="75">216</text><text class="b" x="240" y="88">132836</text><text class="c" x="240" y="101">0.00%</text></g>
<g id="m98" transform="translate(271,3889)"><use href="#M"/><text class="mn" x="1" y="-7.5">98</text><use href="#T"/><text class="a" x="240" y="75">180</text><text class="b" x="240" y="88">133916</text><text class="c" x="240" y="101">0.00%</text></g>
<g id="m99" transform="translate(511,3889)"><use href="#M"/><text class="mn" x="1" y="-7.5">99</text><use href="#S"/><text class="a" x="240" y="75">216</text><text class="b" x="240" y="88">135212</text><text class="c" x="240" y="101">0.00%</text></g>
<g id="m100" transform="translate(751,3889)"><use href="#M"/><text class="mn" x="1" y="-7.5">100</text><use href="#S"/><text class="a" x="240" y="75">216</text><text class="b" x="240" y="88">136508</text><text class="c" x="240" y="101">0.00%</text></g>
<g id="m101" transform="translate(31,4042)"><use href="#M"/><text class="mn" x="1" y="-7.5">101</text><use href="#S"/><text class="a" x="240" y="75">216</text><text class="b" x="240" y="88">137804</text><text class="c" x="240" y="101">0.00%</text></g>
<g id="m102" transform="translate(271,4042)"><use href="#M"/><text class="mn" x="1" y="-7.5">102</text><use href="#T"/><text class="a" x="240" y="75">180</text><text class="b" x="240" y="88">138886</text><text class="c" x="240" y="101">0.00%</text></g>
<g id="m103" transform="translate(511,4042)"><use href="#M"/><text class="mn" x="1" y="-7.5">103</text><use href="#S"/><text class="a" x="240" y="75">216</text><text class="b" x="240" y="88">140182</text><text class="c" x="240" y="101">0.00%</text></g>
<g id="m104" transform="translate(751,4042)"><use href="#M"/><text class="mn" x="1" y="-7.5">104</text><use href="#S"/><text class="a" x="240" y="75">216</text><text class="b" x="240" y="88">141478</text><text class="c" x="240" y="101">0.00%</text></g>
<g id="m105" transform="translate(31,4195)"><use href="#M"/><text class="mn" x="1" y="-7.5">105</text><use href="#S"/><text class="a" x="240" y="75">216</text><text class="b" x="240" y="88">142774</text><text class="c" x="240" y="101">0.00%</text></g>
<g id="m106" transform="translate(271,4195)"><use href="#M"/><text class="mn" x="1" y="-7.5">106</text><use href="#T"/><text class="a" x="240" y="75">180</text><text class="b" x="240" y="88">143854</text><text class="c" x="240" y="101">0.00%</text></g>
</g>
<g id="overlays">
<rect class="ovg" x="511" y="523" width="420" height="60"/>
<rect class="ovr" x="361" y="676" width="6" height="60"/>
<rect class="ovb" x="367" y="676" width="480" height="60"/>
<rect class="ovg" x="511" y="982" width="210" height="60"/>
<rect class="ovr" x="601" y="1288" width="6" height="60"/>
<rect class="ovb" x="607" y="1288" width="384" height="60"/>
<rect class="ovb" x="31" y="1441" width="98" height="60"/>
<rect class="ovr" x="129" y="1441" width="6" height="60"/>
<rect class="ovg" x="271" y="1441" width="180" height="60"/>
<rect class="ovr" x="361" y="1594" width="6" height="60"/>
<rect class="ovb" x="367" y="1594" width="480" height="60"/>
<rect class="ovg" x="751" y="1747" width="195" height="60"/>
<rect class="ovb" x="661" y="2053" width="330" height="60"/>
<rect class="ovb" x="31" y="2206" width="150" height="60"/>
<rect class="ovr" x="181" y="2206" width="2" height="60"/>
<rect class="ovg" x="271" y="2206" width="224" height="60"/>
<rect class="ovb" x="960" y="2512" width="31" height="60"/>
<rect class="ovb" x="31" y="2665" width="449" height="60"/>
<rect class="ovg" x="511" y="2665" width="266" height="60"/>
<rect class="ovb" x="511" y="2818" width="480" height="60"/>
<rect class="ovg" x="841" y="2971" width="150" height="60"/>
<rect class="ovg" x="31" y="3124" width="390" height="60"/>
<rect class="ovb" x="871" y="3124" width="120" height="60"/>
<rect class="ovb" x="31" y="3277" width="360" height="60"/>
<rect class="ovg" x="31" y="3430" width="390" height="60"/>
<rect class="ovr" x="601" y="3583" width="6" height="60"/>
<rect class="ovb" x="607" y="3583" width="384" height="60"/>
<rect class="ovb" x="31" y="3736" width="98" height="60"/>
<rect class="ovr" x="129" y="3736" width="6" height="60"/>
<rect class="ovg" x="211" y="3736" width="240" height="60"/>
<rect class="ovr" x="601" y="3736" width="6" height="60"/>
<rect class="ovb" x="607" y="3736" width="384" height="60"/>
<rect class="ovb" x="31" y="3889" width="98" height="60"/>
<rect class="ovr" x="129" y="3889" width="6" height="60"/>
</g>
</g>
</svg>
